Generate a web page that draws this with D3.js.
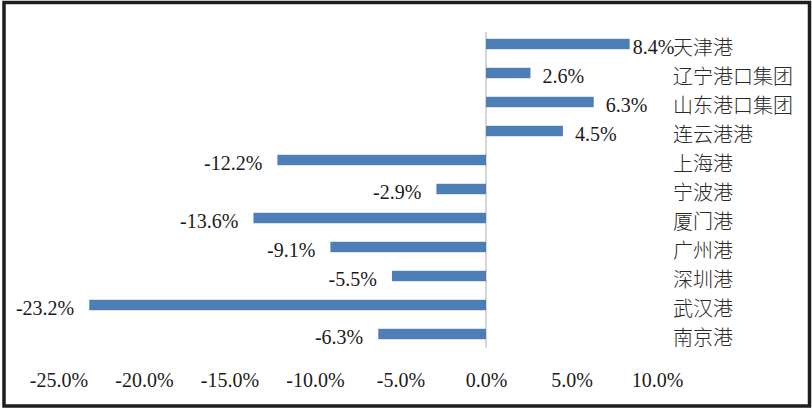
<!DOCTYPE html>
<html>
<head>
<meta charset="utf-8">
<script src="https://cdn.jsdelivr.net/npm/d3@7"></script>
<style>
  html, body { margin: 0; padding: 0; background: #fff; }
  svg { display: block; }
</style>
</head>
<body>
<svg id="chart" width="812" height="410"></svg>
<script>
const categories = ["天津港", "辽宁港口集团", "山东港口集团", "连云港港", "上海港", "宁波港", "厦门港", "广州港", "深圳港", "武汉港", "南京港"];
const values = [8.4, 2.6, 6.3, 4.5, -12.2, -2.9, -13.6, -9.1, -5.5, -23.2, -6.3];
const tickValues = [-25, -20, -15, -10, -5, 0, 5, 10];

const svg = d3.select("#chart");

// frame
svg.append("rect").attr("x", 0).attr("y", 0).attr("width", 812).attr("height", 410).attr("fill", "#fff");
svg.append("rect")
  .attr("x", 4).attr("y", 2.5).attr("width", 805.5).attr("height", 403.5)
  .attr("fill", "none").attr("stroke", "#1e1e1e").attr("stroke-width", 3.5);

const x = d3.scaleLinear().domain([-25, 10]).range([58.5, 657]);
const y = d3.scaleBand().domain(categories).range([29.5, 348.5]);
const bh = y.bandwidth() * 0.36;

// zero line
svg.append("line")
  .attr("x1", x(0)).attr("x2", x(0))
  .attr("y1", 32).attr("y2", 348)
  .attr("stroke", "#bdbdbd").attr("stroke-width", 1.2);

const rows = categories.map((c, i) => ({ c, v: values[i] }));

// bars
svg.selectAll("rect.bar").data(rows).enter().append("rect")
  .attr("class", "bar")
  .attr("x", d => Math.min(x(d.v), x(0)))
  .attr("width", d => Math.abs(x(d.v) - x(0)))
  .attr("y", d => y(d.c) + y.bandwidth() / 2 - bh / 2)
  .attr("height", bh)
  .attr("fill", "#4d7fb6");

// value labels
const catX = 673;
svg.selectAll("text.val").data(rows).enter().append("text")
  .attr("class", "val")
  .attr("font-family", "'Liberation Serif', 'Times New Roman', serif")
  .attr("font-size", 20)
  .attr("fill", "#1a1a1a")
  .attr("dominant-baseline", "central")
  .attr("y", d => y(d.c) + y.bandwidth() / 2 + 3)
  .attr("text-anchor", d => d.v >= 0 ? "start" : "end")
  .text(d => d.v.toFixed(1) + "%")
  .each(function(d) {
    const t = d3.select(this);
    if (d.v >= 0) {
      const w = this.getComputedTextLength();
      let px = x(d.v) + 12;
      if (px + w > catX - 1) px = Math.max(x(d.v) + 3, catX - 1 - w);
      t.attr("x", px);
    } else {
      t.attr("x", x(d.v) - 15);
    }
  });

// category labels
svg.selectAll("text.cat").data(rows).enter().append("text")
  .attr("class", "cat")
  .attr("x", catX)
  .attr("y", d => y(d.c) + y.bandwidth() / 2 + 2)
  .attr("dominant-baseline", "central")
  .attr("font-family", "'Noto Sans CJK SC', sans-serif")
  .attr("font-weight", 300)
  .attr("font-size", 20)
  .attr("fill", "#2a2a2a")
  .text(d => d.c);

// x axis (labels only)
const axis = d3.axisBottom(x)
  .tickValues(tickValues)
  .tickSize(0)
  .tickPadding(0)
  .tickFormat(d => d.toFixed(1) + "%");
const ax = svg.append("g").attr("transform", "translate(0,371)").call(axis);
ax.select(".domain").remove();
ax.selectAll("text")
  .attr("font-family", "'Liberation Serif', 'Times New Roman', serif")
  .attr("font-size", 20)
  .attr("fill", "#1a1a1a")
  .attr("dy", "0.78em");
</script>
</body>
</html>
